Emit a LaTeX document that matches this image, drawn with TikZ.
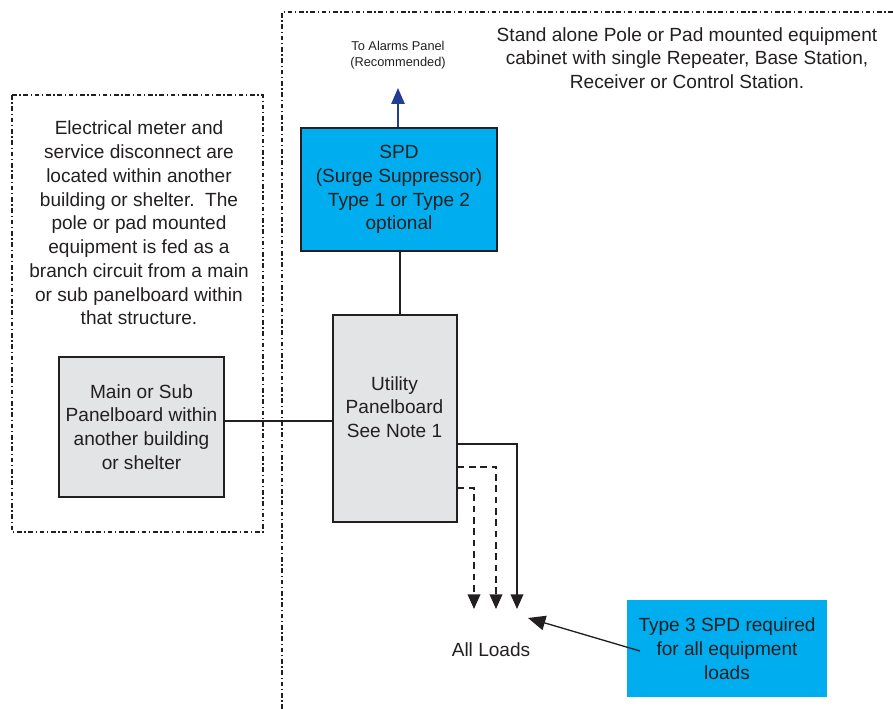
\documentclass[tikz,border=0pt]{standalone}
\usepackage{fontspec}
\setmainfont{Liberation Sans}
\usetikzlibrary{arrows.meta}
\definecolor{spdcyan}{RGB}{0,174,239}
\definecolor{panelgray}{RGB}{227,228,229}
\definecolor{alarmblue}{RGB}{35,60,150}
\definecolor{inkgray}{RGB}{35,31,32}
\begin{document}
\begin{tikzpicture}[x=0.75pt, y=-0.75pt,
    every node/.style={text=inkgray},
    txt/.style={font=\fontsize{14.3}{17.8}\selectfont, align=center},
    smalltxt/.style={font=\fontsize{9.6}{12}\selectfont, align=center},
    frame/.style={draw=inkgray, line width=0.8pt, dash pattern=on 3.5pt off 2pt on 1pt off 2pt},
    panel/.style={draw=inkgray, fill=panelgray, line width=1.5pt, inner sep=0pt},
    spdbox/.style={draw=inkgray, fill=spdcyan, line width=1.5pt, inner sep=0pt},
    feed/.style={draw=inkgray, line width=1.2pt},
    loadtip/.style={-{Triangle[width=9.5pt,length=11pt]}},
    dashedfeed/.style={feed, dash pattern=on 5pt off 3.5pt}]
    % ZONA stanga (x=12..263): cladire existenta
    % ZONA dreapta (x=282..893): cabinet pe stalp sau platforma
    \useasboundingbox (0,0) rectangle (893,709);

    % ===== ZONA stanga =====
    \draw[frame] (12,95) rectangle (263,532);
    \node[txt] (noteleft) at (139,223)
      {Electrical meter and\\service disconnect are\\located within another\\building or shelter.\ \ The\\pole or pad mounted\\equipment is fed as a\\branch circuit from a main\\or sub panelboard within\\that structure.};

    \node[panel, minimum width=123.75pt, minimum height=105pt] (mainp) at (141.5,427) {};
    \node[txt] (maintxt) at (mainp) {Main or Sub\\Panelboard within\\another building\\or shelter};

    % ===== ZONA dreapta =====
    \draw[frame] (282,709) -- (282,12) -- (893,12);
    \node[txt] (noteright) at (687,58)
      {Stand alone Pole or Pad mounted equipment\\cabinet with single Repeater, Base Station,\\Receiver or Control Station.};

    % SPD si panoul utilitar
    \node[spdbox, minimum width=147pt, minimum height=92.25pt] (spd) at (399,189.5) {};
    \node[txt] (spdtxt) at (spd) {SPD\\(Surge Suppressor)\\Type 1 or Type 2\\optional};

    \node[panel, minimum width=93pt, minimum height=155.25pt] (util) at (394.5,418.5) {};
    \node[txt] (utiltxt) at (394.5,407) {Utility\\Panelboard\\See Note 1};

    \node[smalltxt] (alarmtxt) at (398,55) {To Alarms Panel\\(Recommended)};
    \coordinate (alarm) at (398,88);
    \draw[line width=1.3pt, draw=alarmblue, -{Triangle[width=10pt,length=12pt]}, alarmblue]
      (spd.north -| alarm) -- (alarm);

    \draw[feed] (spd.south -| 400,0) -- (util.north -| 400,0);
    \coordinate (mainfeed) at (0,421);
    \draw[feed] (mainp.east |- mainfeed) -- (util.west |- mainfeed);

    % iesiri catre sarcini
    \coordinate (ld1) at (517,609);
    \coordinate (ld2) at (496,609);
    \coordinate (ld3) at (474,609);
    \draw[feed, loadtip] (util.east |- 0,444) -| (ld1);
    \draw[dashedfeed, loadtip] (util.east |- 0,467) -| (ld2);
    \draw[dashedfeed, loadtip] (util.east |- 0,488) -| (ld3);
    \node[txt] (loads) at (491,650) {All Loads};

    % Type 3 SPD
    \node[fill=spdcyan, minimum width=150pt, minimum height=72.75pt, inner sep=0pt] (type3) at (727,648.5) {};
    \node[txt] (type3txt) at (type3) {Type 3 SPD required\\for all equipment\\loads};
    \coordinate (loadsptr) at (528,618);
    \draw[draw=inkgray, line width=1pt, -{Triangle[width=11pt,length=13pt]}] (640,651) -- (loadsptr);

  \end{tikzpicture}
\end{document}
